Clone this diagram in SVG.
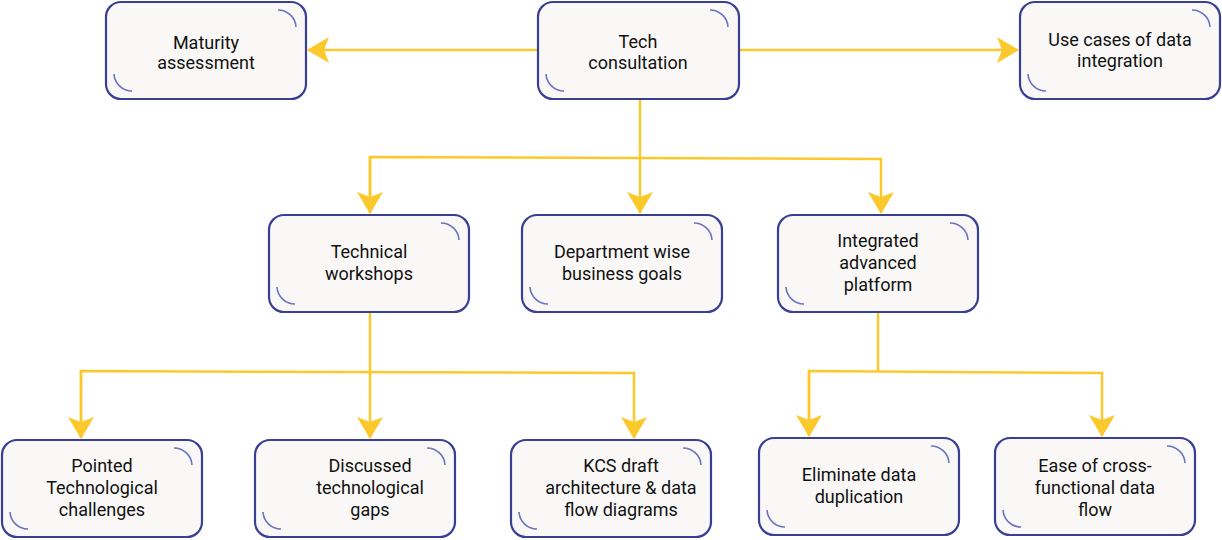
<svg xmlns="http://www.w3.org/2000/svg" width="1222" height="540" viewBox="0 0 1222 540">
<defs>
<style>
.b{fill:#f9f8f6;stroke:#3a3f96;stroke-width:2.2}
.a{fill:none;stroke:#6b73c4;stroke-width:1.6}
.t{font-family:Roboto,"Liberation Sans",sans-serif;font-size:18px;fill:#111;text-anchor:middle}
.c{fill:none;stroke:#fcc92c;stroke-width:2.5}
</style>
<marker id="ar" viewBox="0 0 22 26" refX="21" refY="13" markerWidth="22" markerHeight="26" markerUnits="userSpaceOnUse" orient="auto">
<path d="M0,0 L22,13 L0,26 L5,13 Z" fill="#fcc92c"/>
</marker>
</defs>
<g id="connectors">
<path class="c" d="M538,50 H308" marker-end="url(#ar)"/>
<path class="c" d="M739,50 H1018" marker-end="url(#ar)"/>
<path class="c" d="M640,99 V213" marker-end="url(#ar)"/>
<path class="c" d="M370,213 V157 L881,159 V213" marker-end="url(#ar)"/>
<path class="c" d="M370,157 V213" marker-end="url(#ar)"/>
<path class="c" d="M370,312 V438" marker-end="url(#ar)"/>
<path class="c" d="M81,438 V371 L634,373 V438" marker-end="url(#ar)"/>
<path class="c" d="M81,371 V438" marker-end="url(#ar)"/>
<path class="c" d="M878,312 V371"/>
<path class="c" d="M809,436 V371 L1102,373 V436" marker-end="url(#ar)"/>
<path class="c" d="M809,371 V436" marker-end="url(#ar)"/>
</g>
<g id="n1" transform="translate(106,2)"><rect class="b" width="200" height="97" rx="15"/><path class="a" d="M172,8 A18,18 0 0 1 190,25 M8,72 A18,18 0 0 0 26,89"/><text class="t" x="100" y="47">Maturity</text><text class="t" x="100" y="67">assessment</text></g>
<g id="n2" transform="translate(538,2)"><rect class="b" width="201" height="97" rx="15"/><path class="a" d="M172,8 A18,18 0 0 1 190,25 M8,72 A18,18 0 0 0 26,89"/><text class="t" x="100" y="46">Tech</text><text class="t" x="100" y="67">consultation</text></g>
<g id="n3" transform="translate(1020,2)"><rect class="b" width="200" height="97" rx="15"/><path class="a" d="M172,8 A18,18 0 0 1 190,25 M8,72 A18,18 0 0 0 26,89"/><text class="t" x="100" y="44">Use cases of data</text><text class="t" x="100" y="65">integration</text></g>
<g id="n4" transform="translate(269,215)"><rect class="b" width="200" height="97" rx="15"/><path class="a" d="M172,8 A18,18 0 0 1 190,25 M8,72 A18,18 0 0 0 26,89"/><text class="t" x="100" y="43">Technical</text><text class="t" x="100" y="65">workshops</text></g>
<g id="n5" transform="translate(522,215)"><rect class="b" width="200" height="97" rx="15"/><path class="a" d="M172,8 A18,18 0 0 1 190,25 M8,72 A18,18 0 0 0 26,89"/><text class="t" x="100" y="43">Department wise</text><text class="t" x="100" y="65">business goals</text></g>
<g id="n6" transform="translate(778,215)"><rect class="b" width="200" height="97" rx="15"/><path class="a" d="M172,8 A18,18 0 0 1 190,25 M8,72 A18,18 0 0 0 26,89"/><text class="t" x="100" y="32">Integrated</text><text class="t" x="100" y="54">advanced</text><text class="t" x="100" y="76">platform</text></g>
<g id="n7" transform="translate(2,440)"><rect class="b" width="200" height="97" rx="15"/><path class="a" d="M172,8 A18,18 0 0 1 190,25 M8,72 A18,18 0 0 0 26,89"/><text class="t" x="100" y="32">Pointed</text><text class="t" x="100" y="54">Technological</text><text class="t" x="100" y="76">challenges</text></g>
<g id="n8" transform="translate(255,440)"><rect class="b" width="200" height="97" rx="15"/><path class="a" d="M172,8 A18,18 0 0 1 190,25 M8,72 A18,18 0 0 0 26,89"/><text class="t" x="115" y="32">Discussed</text><text class="t" x="115" y="54">technological</text><text class="t" x="115" y="76">gaps</text></g>
<g id="n9" transform="translate(511,440)"><rect class="b" width="200" height="97" rx="15"/><path class="a" d="M172,8 A18,18 0 0 1 190,25 M8,72 A18,18 0 0 0 26,89"/><text class="t" x="110" y="32">KCS draft</text><text class="t" x="110" y="54">architecture &amp; data</text><text class="t" x="110" y="76">flow diagrams</text></g>
<g id="n10" transform="translate(759,438)"><rect class="b" width="200" height="97" rx="15"/><path class="a" d="M172,8 A18,18 0 0 1 190,25 M8,72 A18,18 0 0 0 26,89"/><text class="t" x="100" y="43">Eliminate data</text><text class="t" x="100" y="65">duplication</text></g>
<g id="n11" transform="translate(995,438)"><rect class="b" width="200" height="97" rx="15"/><path class="a" d="M172,8 A18,18 0 0 1 190,25 M8,72 A18,18 0 0 0 26,89"/><text class="t" x="100" y="34">Ease of cross-</text><text class="t" x="100" y="56">functional data</text><text class="t" x="100" y="78">flow</text></g>
</svg>
